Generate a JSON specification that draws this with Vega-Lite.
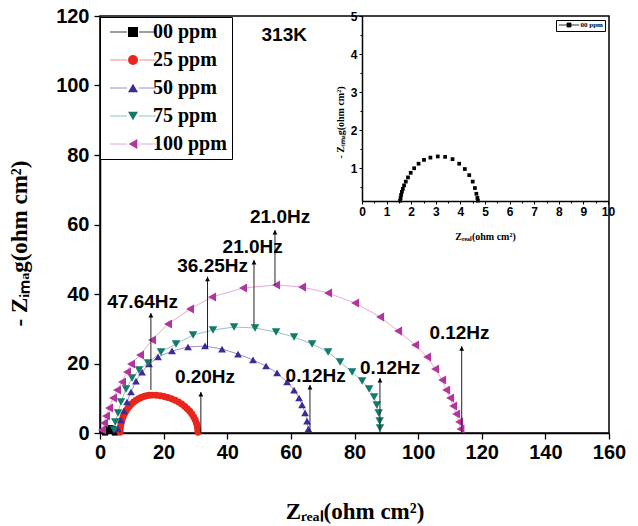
{
  "$schema": "https://vega.github.io/schema/vega-lite/v6.json",
  "width": 509,
  "height": 417,
  "autosize": {"type": "none"},
  "padding": {"left": 100, "top": 16, "right": 29, "bottom": 93},
  "background": "white",
  "config": {
    "view": {"stroke": "black", "strokeWidth": 1.5},
    "axis": {"grid": false, "domainColor": "black", "tickColor": "black", "labelColor": "black", "titleColor": "black", "labelFlush": false, "labelOverlap": false, "labelBound": false}
  },
  "datasets": {
    "eis": [
      {"s": "00 ppm", "x": 1.55, "y": 0.15},
      {"s": "00 ppm", "x": 1.57, "y": 0.22},
      {"s": "00 ppm", "x": 1.59, "y": 0.30},
      {"s": "00 ppm", "x": 1.62, "y": 0.38},
      {"s": "00 ppm", "x": 1.66, "y": 0.46},
      {"s": "00 ppm", "x": 1.71, "y": 0.55},
      {"s": "00 ppm", "x": 1.78, "y": 0.65},
      {"s": "00 ppm", "x": 1.87, "y": 0.76},
      {"s": "00 ppm", "x": 1.98, "y": 0.88},
      {"s": "00 ppm", "x": 2.12, "y": 1.0},
      {"s": "00 ppm", "x": 2.30, "y": 1.12},
      {"s": "00 ppm", "x": 2.52, "y": 1.22},
      {"s": "00 ppm", "x": 2.78, "y": 1.28},
      {"s": "00 ppm", "x": 3.08, "y": 1.31},
      {"s": "00 ppm", "x": 3.38, "y": 1.30},
      {"s": "00 ppm", "x": 3.68, "y": 1.24},
      {"s": "00 ppm", "x": 3.95, "y": 1.12},
      {"s": "00 ppm", "x": 4.18, "y": 0.98},
      {"s": "00 ppm", "x": 4.36, "y": 0.82},
      {"s": "00 ppm", "x": 4.50, "y": 0.65},
      {"s": "00 ppm", "x": 4.59, "y": 0.48},
      {"s": "00 ppm", "x": 4.65, "y": 0.33},
      {"s": "00 ppm", "x": 4.69, "y": 0.22},
      {"s": "00 ppm", "x": 4.71, "y": 0.15},
      {"s": "25 ppm", "x": 6.30, "y": 0.2},
      {"s": "25 ppm", "x": 6.34, "y": 0.95},
      {"s": "25 ppm", "x": 6.45, "y": 1.90},
      {"s": "25 ppm", "x": 6.64, "y": 2.82},
      {"s": "25 ppm", "x": 6.91, "y": 3.73},
      {"s": "25 ppm", "x": 7.25, "y": 4.61},
      {"s": "25 ppm", "x": 7.65, "y": 5.45},
      {"s": "25 ppm", "x": 8.13, "y": 6.25},
      {"s": "25 ppm", "x": 8.66, "y": 7.01},
      {"s": "25 ppm", "x": 9.26, "y": 7.71},
      {"s": "25 ppm", "x": 9.91, "y": 8.35},
      {"s": "25 ppm", "x": 10.60, "y": 8.93},
      {"s": "25 ppm", "x": 11.35, "y": 9.44},
      {"s": "25 ppm", "x": 12.13, "y": 9.88},
      {"s": "25 ppm", "x": 12.95, "y": 10.24},
      {"s": "25 ppm", "x": 13.78, "y": 10.53},
      {"s": "25 ppm", "x": 14.64, "y": 10.74},
      {"s": "25 ppm", "x": 15.52, "y": 10.86},
      {"s": "25 ppm", "x": 16.40, "y": 10.9},
      {"s": "25 ppm", "x": 17.65, "y": 10.86},
      {"s": "25 ppm", "x": 18.91, "y": 10.74},
      {"s": "25 ppm", "x": 20.13, "y": 10.53},
      {"s": "25 ppm", "x": 21.32, "y": 10.24},
      {"s": "25 ppm", "x": 22.49, "y": 9.88},
      {"s": "25 ppm", "x": 23.60, "y": 9.44},
      {"s": "25 ppm", "x": 24.67, "y": 8.93},
      {"s": "25 ppm", "x": 25.66, "y": 8.35},
      {"s": "25 ppm", "x": 26.58, "y": 7.71},
      {"s": "25 ppm", "x": 27.43, "y": 7.01},
      {"s": "25 ppm", "x": 28.19, "y": 6.25},
      {"s": "25 ppm", "x": 28.87, "y": 5.45},
      {"s": "25 ppm", "x": 29.45, "y": 4.61},
      {"s": "25 ppm", "x": 29.93, "y": 3.73},
      {"s": "25 ppm", "x": 30.31, "y": 2.82},
      {"s": "25 ppm", "x": 30.58, "y": 1.90},
      {"s": "25 ppm", "x": 30.74, "y": 0.95},
      {"s": "25 ppm", "x": 30.80, "y": 0.2},
      {"s": "50 ppm", "x": 5.66, "y": 1.15},
      {"s": "50 ppm", "x": 6.60, "y": 3.74},
      {"s": "50 ppm", "x": 7.55, "y": 6.33},
      {"s": "50 ppm", "x": 8.49, "y": 8.92},
      {"s": "50 ppm", "x": 9.75, "y": 11.80},
      {"s": "50 ppm", "x": 11.32, "y": 14.96},
      {"s": "50 ppm", "x": 13.21, "y": 17.55},
      {"s": "50 ppm", "x": 15.41, "y": 19.86},
      {"s": "50 ppm", "x": 18.24, "y": 21.87},
      {"s": "50 ppm", "x": 22.64, "y": 23.60},
      {"s": "50 ppm", "x": 27.67, "y": 24.75},
      {"s": "50 ppm", "x": 33.02, "y": 25.04},
      {"s": "50 ppm", "x": 38.36, "y": 24.17},
      {"s": "50 ppm", "x": 43.40, "y": 22.73},
      {"s": "50 ppm", "x": 48.11, "y": 21.01},
      {"s": "50 ppm", "x": 52.20, "y": 19.28},
      {"s": "50 ppm", "x": 55.66, "y": 17.27},
      {"s": "50 ppm", "x": 58.81, "y": 14.68},
      {"s": "50 ppm", "x": 61.01, "y": 12.37},
      {"s": "50 ppm", "x": 62.58, "y": 10.07},
      {"s": "50 ppm", "x": 63.52, "y": 8.06},
      {"s": "50 ppm", "x": 64.47, "y": 5.76},
      {"s": "50 ppm", "x": 65.09, "y": 3.45},
      {"s": "50 ppm", "x": 65.50, "y": 1.15},
      {"s": "75 ppm", "x": 4.4, "y": 0.9},
      {"s": "75 ppm", "x": 4.8, "y": 3.2},
      {"s": "75 ppm", "x": 5.66, "y": 5.76},
      {"s": "75 ppm", "x": 6.6, "y": 8.92},
      {"s": "75 ppm", "x": 8.18, "y": 12.66},
      {"s": "75 ppm", "x": 10.06, "y": 15.83},
      {"s": "75 ppm", "x": 12.26, "y": 18.13},
      {"s": "75 ppm", "x": 15.09, "y": 20.14},
      {"s": "75 ppm", "x": 19.18, "y": 23.31},
      {"s": "75 ppm", "x": 23.9, "y": 25.6},
      {"s": "75 ppm", "x": 29.25, "y": 28.2},
      {"s": "75 ppm", "x": 35.53, "y": 29.64},
      {"s": "75 ppm", "x": 42.14, "y": 30.5},
      {"s": "75 ppm", "x": 48.74, "y": 30.22},
      {"s": "75 ppm", "x": 55.35, "y": 29.06},
      {"s": "75 ppm", "x": 61.0, "y": 27.63},
      {"s": "75 ppm", "x": 66.67, "y": 25.61},
      {"s": "75 ppm", "x": 71.7, "y": 23.31},
      {"s": "75 ppm", "x": 75.47, "y": 20.43},
      {"s": "75 ppm", "x": 79.25, "y": 17.55},
      {"s": "75 ppm", "x": 82.39, "y": 14.96},
      {"s": "75 ppm", "x": 84.59, "y": 12.66},
      {"s": "75 ppm", "x": 86.16, "y": 10.36},
      {"s": "75 ppm", "x": 87.0, "y": 8.06},
      {"s": "75 ppm", "x": 87.6, "y": 5.76},
      {"s": "75 ppm", "x": 87.9, "y": 3.45},
      {"s": "75 ppm", "x": 88.0, "y": 1.44},
      {"s": "100 ppm", "x": 0.63, "y": 0.86},
      {"s": "100 ppm", "x": 1.26, "y": 2.88},
      {"s": "100 ppm", "x": 1.89, "y": 4.89},
      {"s": "100 ppm", "x": 2.83, "y": 7.19},
      {"s": "100 ppm", "x": 4.09, "y": 10.07},
      {"s": "100 ppm", "x": 5.35, "y": 12.37},
      {"s": "100 ppm", "x": 6.92, "y": 14.68},
      {"s": "100 ppm", "x": 8.49, "y": 17.55},
      {"s": "100 ppm", "x": 9.75, "y": 19.86},
      {"s": "100 ppm", "x": 12.58, "y": 22.45},
      {"s": "100 ppm", "x": 16.35, "y": 26.76},
      {"s": "100 ppm", "x": 21.38, "y": 31.37},
      {"s": "100 ppm", "x": 28.30, "y": 35.68},
      {"s": "100 ppm", "x": 35.22, "y": 39.14},
      {"s": "100 ppm", "x": 44.97, "y": 41.73},
      {"s": "100 ppm", "x": 55.35, "y": 42.59},
      {"s": "100 ppm", "x": 63.52, "y": 42.01},
      {"s": "100 ppm", "x": 71.70, "y": 40.29},
      {"s": "100 ppm", "x": 80.19, "y": 37.41},
      {"s": "100 ppm", "x": 88.05, "y": 33.38},
      {"s": "100 ppm", "x": 93.71, "y": 29.35},
      {"s": "100 ppm", "x": 99.06, "y": 25.32},
      {"s": "100 ppm", "x": 102.83, "y": 21.87},
      {"s": "100 ppm", "x": 105.35, "y": 18.42},
      {"s": "100 ppm", "x": 107.55, "y": 15.25},
      {"s": "100 ppm", "x": 108.81, "y": 12.37},
      {"s": "100 ppm", "x": 110.06, "y": 10.07},
      {"s": "100 ppm", "x": 111.01, "y": 7.77},
      {"s": "100 ppm", "x": 111.95, "y": 5.47},
      {"s": "100 ppm", "x": 112.89, "y": 3.17},
      {"s": "100 ppm", "x": 113.3, "y": 1.15}
    ],
    "ann": [
      {"label": "47.64Hz", "x": 16, "y0": 12.4, "tip": 34.5, "lx": 13.4, "ly": 37.6},
      {"label": "36.25Hz", "x": 33.8, "y0": 24.5, "tip": 45.0, "lx": 35.4, "ly": 48.2},
      {"label": "21.0Hz", "x": 48.4, "y0": 31.1, "tip": 49.8, "lx": 48.0, "ly": 53.6},
      {"label": "21.0Hz", "x": 55.0, "y0": 42.6, "tip": 58.4, "lx": 56.6, "ly": 62.1},
      {"label": "0.20Hz", "x": 31.7, "y0": 0, "tip": 11.8, "lx": 33.0, "ly": 16.0},
      {"label": "0.12Hz", "x": 66.0, "y0": 0, "tip": 13.8, "lx": 67.8, "ly": 16.5},
      {"label": "0.12Hz", "x": 88.0, "y0": 0, "tip": 15.8, "lx": 91.2, "ly": 18.8},
      {"label": "0.12Hz", "x": 113.7, "y0": 0, "tip": 25.0, "lx": 113.0, "ly": 28.9}
    ]
  },
  "layer": [
    {
      "layer": [
        {
          "data": {"name": "eis"},
          "mark": {"type": "line", "strokeWidth": 1, "opacity": 0.75},
          "encoding": {
            "x": {"field": "x", "type": "quantitative",
              "scale": {"domain": [0, 160], "nice": false, "zero": false},
              "axis": {
                "title": "Zᵣₑₐₗ(ohm cm²)",
                "values": [0, 10, 20, 30, 40, 50, 60, 70, 80, 90, 100, 110, 120, 130, 140, 150, 160],
                "labelExpr": "datum.value % 20 === 0 ? datum.label : ''",
                "labelOverlap": false,
                "tickSize": {"condition": {"test": "datum.value % 20 === 0", "value": 6}, "value": 4},
                "tickWidth": 1.3, "domainWidth": 1.5,
                "labelFont": "Liberation Sans", "labelFontWeight": "bold", "labelFontSize": 20, "labelPadding": 3,
                "titleFont": "Liberation Serif", "titleFontWeight": "bold", "titleFontSize": 23, "titlePadding": 38
              }
            },
            "y": {"field": "y", "type": "quantitative",
              "scale": {"domain": [0, 120], "nice": false, "zero": false},
              "axis": {
                "title": "- Zᵢₘₐg(ohm cm²)",
                "values": [0, 10, 20, 30, 40, 50, 60, 70, 80, 90, 100, 110, 120],
                "labelOverlap": false,
                "tickSize": 6,
                "tickWidth": 1.3, "domainWidth": 1.5,
                "labelFont": "Liberation Sans", "labelFontWeight": "bold", "labelFontSize": 20, "labelPadding": 5,
                "titleFont": "Liberation Serif", "titleFontWeight": "bold", "titleFontSize": 23, "titlePadding": 24, "titleY": 227
              }
            },
            "stroke": {"field": "s", "type": "nominal",
              "sort": ["00 ppm", "25 ppm", "50 ppm", "75 ppm", "100 ppm"],
              "scale": {"range": ["#000000", "#ef6b63", "#7b6cc2", "#6db3a7", "#e08ad0"]},
              "legend": {
                "title": null, "orient": "none", "legendX": 0, "legendY": 1, "zindex": 0,
                "padding": 5, "strokeColor": "black", "fillColor": "white",
                "symbolType": "M-4.6,0H-1.2M1.2,0H4.6", "symbolSize": 100, "symbolStrokeWidth": 1,
                "symbolOffset": 18, "labelOffset": 10, "rowPadding": 8,
                "labelFont": "Liberation Serif", "labelFontWeight": "bold", "labelFontSize": 20, "labelOpacity": 0
              }
            }
          }
        },
        {
          "data": {"name": "eis"},
          "mark": {"type": "point", "filled": true, "opacity": 1},
          "encoding": {
            "x": {"field": "x", "type": "quantitative"},
            "y": {"field": "y", "type": "quantitative"},
            "color": {"field": "s", "type": "nominal",
              "scale": {"domain": ["00 ppm", "25 ppm", "50 ppm", "75 ppm", "100 ppm"],
                "range": ["#000000", "#e8261c", "#3d2a94", "#137a6b", "#b3349c"]},
              "legend": {
                "title": null, "orient": "none", "legendX": 0, "legendY": 1, "zindex": 1,
                "padding": 5,
                "symbolSize": 100, "symbolStrokeWidth": 1,
                "symbolOffset": 18, "labelOffset": 10, "rowPadding": 8,
                "labelFont": "Liberation Serif", "labelFontWeight": "bold", "labelFontSize": 20, "labelColor": "black"
              }
            },
            "shape": {"field": "s", "type": "nominal",
              "scale": {"domain": ["00 ppm", "25 ppm", "50 ppm", "75 ppm", "100 ppm"],
                "range": ["square", "circle", "triangle-up", "triangle-down", "triangle-left"]}},
            "size": {"field": "s", "type": "nominal", "legend": null,
              "scale": {"domain": ["00 ppm", "25 ppm", "50 ppm", "75 ppm", "100 ppm"],
                "range": [36, 85, 135, 160, 175]}}
          }
        },
        {
          "data": {"name": "ann"},
          "mark": {"type": "rule", "color": "#222222", "strokeWidth": 1},
          "encoding": {
            "x": {"field": "x", "type": "quantitative"},
            "y": {"field": "y0", "type": "quantitative"},
            "y2": {"field": "tip"}
          }
        },
        {
          "data": {"name": "ann"},
          "mark": {"type": "point", "shape": "M0,0L0.8,1.5H-0.8Z", "filled": true, "color": "black", "size": 36, "opacity": 1},
          "encoding": {
            "x": {"field": "x", "type": "quantitative"},
            "y": {"field": "tip", "type": "quantitative"}
          }
        },
        {
          "data": {"name": "ann"},
          "mark": {"type": "text", "font": "Liberation Sans", "fontWeight": "bold", "fontSize": 19, "color": "black", "align": "center", "baseline": "middle"},
          "encoding": {
            "x": {"field": "lx", "type": "quantitative"},
            "y": {"field": "ly", "type": "quantitative"},
            "text": {"field": "label"}
          }
        },
        {
          "data": {"values": [{"t": "313K", "x": 57.9, "y": 114.5}]},
          "mark": {"type": "text", "font": "Liberation Sans", "fontWeight": "bold", "fontSize": 19, "color": "black", "align": "center", "baseline": "middle"},
          "encoding": {
            "x": {"field": "x", "type": "quantitative"},
            "y": {"field": "y", "type": "quantitative"},
            "text": {"field": "t"}
          }
        }
      ]
    },
    {
      "data": {"name": "eis"},
      "transform": [{"filter": "datum.s === '00 ppm'"}],
      "mark": {"type": "point", "filled": true, "opacity": 1, "size": 14, "shape": "square"},
      "encoding": {
        "x": {"field": "x", "type": "quantitative",
          "scale": {"domain": [0, 10], "range": [262, 508], "nice": false, "zero": false},
          "axis": {
            "orient": "bottom", "offset": -232,
            "title": "Zᵣₑₐₗ(ohm cm²)",
            "values": [0, 0.5, 1, 1.5, 2, 2.5, 3, 3.5, 4, 4.5, 5, 5.5, 6, 6.5, 7, 7.5, 8, 8.5, 9, 9.5, 10],
            "format": "~g",
            "labelExpr": "datum.value % 1 === 0 ? datum.label : ''",
            "labelOverlap": false,
            "tickSize": {"condition": {"test": "datum.value % 1 === 0", "value": 3}, "value": 2},
            "tickWidth": 1, "domainWidth": 1.5,
            "labelFont": "Liberation Sans", "labelFontWeight": "bold", "labelFontSize": 12, "labelPadding": 2,
            "titleFont": "Liberation Serif", "titleFontWeight": "bold", "titleFontSize": 10, "titlePadding": 14
          }
        },
        "y": {"field": "y", "type": "quantitative",
          "scale": {"domain": [0.14, 5], "range": [185, 0], "nice": false, "zero": false},
          "axis": {
            "orient": "left", "offset": -262,
            "title": "- Zᵢₘₐg(ohm cm²)",
            "values": [0.5, 1, 1.5, 2, 2.5, 3, 3.5, 4, 4.5, 5],
            "format": "~g",
            "labelExpr": "datum.value % 1 === 0 ? datum.label : ''",
            "labelOverlap": false,
            "tickSize": {"condition": {"test": "datum.value % 1 === 0", "value": 3}, "value": 2},
            "tickWidth": 1, "domainWidth": 1.5,
            "labelFont": "Liberation Sans", "labelFontWeight": "bold", "labelFontSize": 12, "labelPadding": 2,
            "titleFont": "Liberation Serif", "titleFontWeight": "bold", "titleFontSize": 10, "titlePadding": 5, "titleY": 106
          }
        },
        "color": {"field": "s", "type": "nominal",
          "scale": {"domain": ["00 ppm"], "range": ["#000000"]},
          "legend": {
            "title": null, "orient": "top-right", "offset": 4, "padding": 1.5,
            "strokeColor": "black", "fillColor": "white",
            "labelFont": "Liberation Serif", "labelFontWeight": "bold", "labelFontSize": 7, "labelColor": "black",
            "symbolType": "M-4.6,0H4.6M-0.9,-0.9H0.9V0.9H-0.9Z",
            "symbolSize": 20, "symbolOffset": 8, "labelOffset": 8, "symbolStrokeWidth": 0.8, "symbolStrokeColor": "black",
            "encode": {"legend": {"strokeWidth": {"value": 0.8}}}
          }
        }
      }
    }
  ],
  "resolve": {"scale": {"x": "independent", "y": "independent", "color": "independent", "shape": "independent"}}
}
